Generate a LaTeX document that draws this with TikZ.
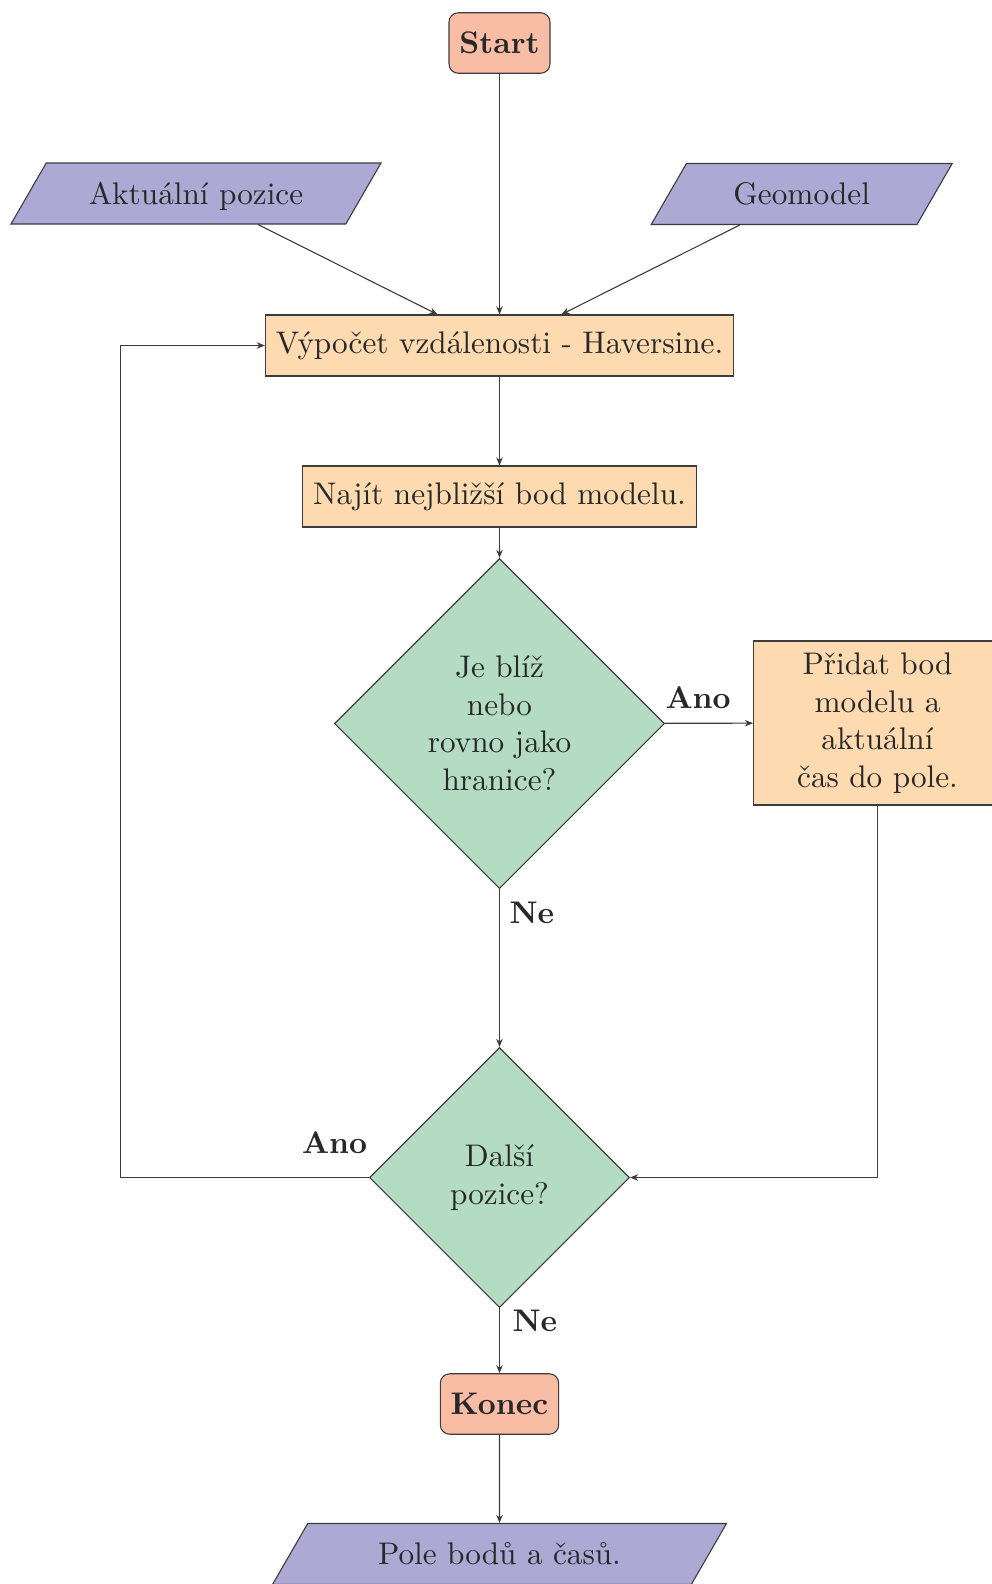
\documentclass[tikz,border=0pt]{standalone}
\usetikzlibrary{shapes.geometric, arrows.meta}

\definecolor{termfill}{RGB}{249,189,166}
\definecolor{iofill}{RGB}{173,169,212}
\definecolor{procfill}{RGB}{253,218,176}
\definecolor{decfill}{RGB}{179,220,194}
\definecolor{ink}{RGB}{40,40,40}
\definecolor{edge}{RGB}{60,60,60}

\begin{document}
\begin{tikzpicture}[x=0.32pt, y=-0.32pt, line width=0.35pt, text=ink,
  term/.style={draw=edge, fill=termfill, rounded corners=3pt, minimum height=19.36pt,
    inner sep=3.33pt, font=\bfseries},
  io/.style={draw=edge, fill=iofill, trapezium, trapezium left angle=60,
    trapezium right angle=120, trapezium stretches body,
    text height=9.8pt, text depth=3.06pt, inner sep=3.33pt},
  proc/.style={draw=edge, fill=procfill, minimum height=19.52pt, inner sep=3.33pt},
  dec/.style={draw=edge, fill=decfill, diamond, aspect=1, inner sep=1pt, align=center},
  lbl/.style={font=\bfseries, inner sep=0pt},
  flow/.style={draw=edge, -{Stealth[length=2.6pt,width=2.1pt]}}
]
\useasboundingbox (0,0) rectangle (992,1584);

% nodes
\node[term] (start) at (499.5,43) {Start};
\node[io, minimum width=118.4pt] (akt) at (196,193.5) {Aktuální pozice};
\node[io, minimum width=96.32pt] (geo) at (801.7,194) {Geomodel};
\node[proc] (vyp) at (499.5,345.5) {Výpočet vzdálenosti - Haversine.};
\node[proc] (naj) at (499.5,496.5) {Najít nejbližší bod modelu.};
\node[dec, minimum width=105.6pt, minimum height=105.6pt] (d1) at (499.5,723.5)
  {Je blíž\\nebo\\rovno jako\\hranice?};
\node[proc, minimum width=79.36pt, minimum height=52.48pt, align=center] (prid) at (877.5,723)
  {Přidat bod\\modelu a\\aktuální\\čas do pole.};
\node[dec, minimum width=83.2pt, minimum height=83.2pt] (d2) at (499.5,1177.5)
  {Další\\pozice?};
\node[term] (konec) at (499.5,1404) {Konec};
\node[io, minimum width=145.28pt] (pole) at (499.5,1554) {Pole bodů a časů.};
\coordinate (lp) at (120.5,1177.5);

% branch labels
\node[lbl, anchor=base west] (ano1) at (665,708.3) {Ano};
\node[lbl, anchor=base west] (ne1) at (509,923.3) {Ne};
\node[lbl, anchor=base west] (ano2) at (301.5,1153.3) {Ano};
\node[lbl, anchor=base west] (ne2) at (512,1331.4) {Ne};

% connectors
\draw[flow] (start) -- (vyp);
\draw[flow] (akt) -- (vyp);
\draw[flow] (geo) -- (vyp);
\draw[flow] (vyp) -- (naj);
\draw[flow] (naj) -- (d1);
\draw[flow] (d1) -- (prid);
\draw[flow] (d1) -- (d2);
\draw[flow] (prid) |- (d2);
\draw[flow] (d2) -- (lp) |- (vyp);
\draw[flow] (d2) -- (konec);
\draw[flow] (konec) -- (pole);
\end{tikzpicture}
\end{document}
